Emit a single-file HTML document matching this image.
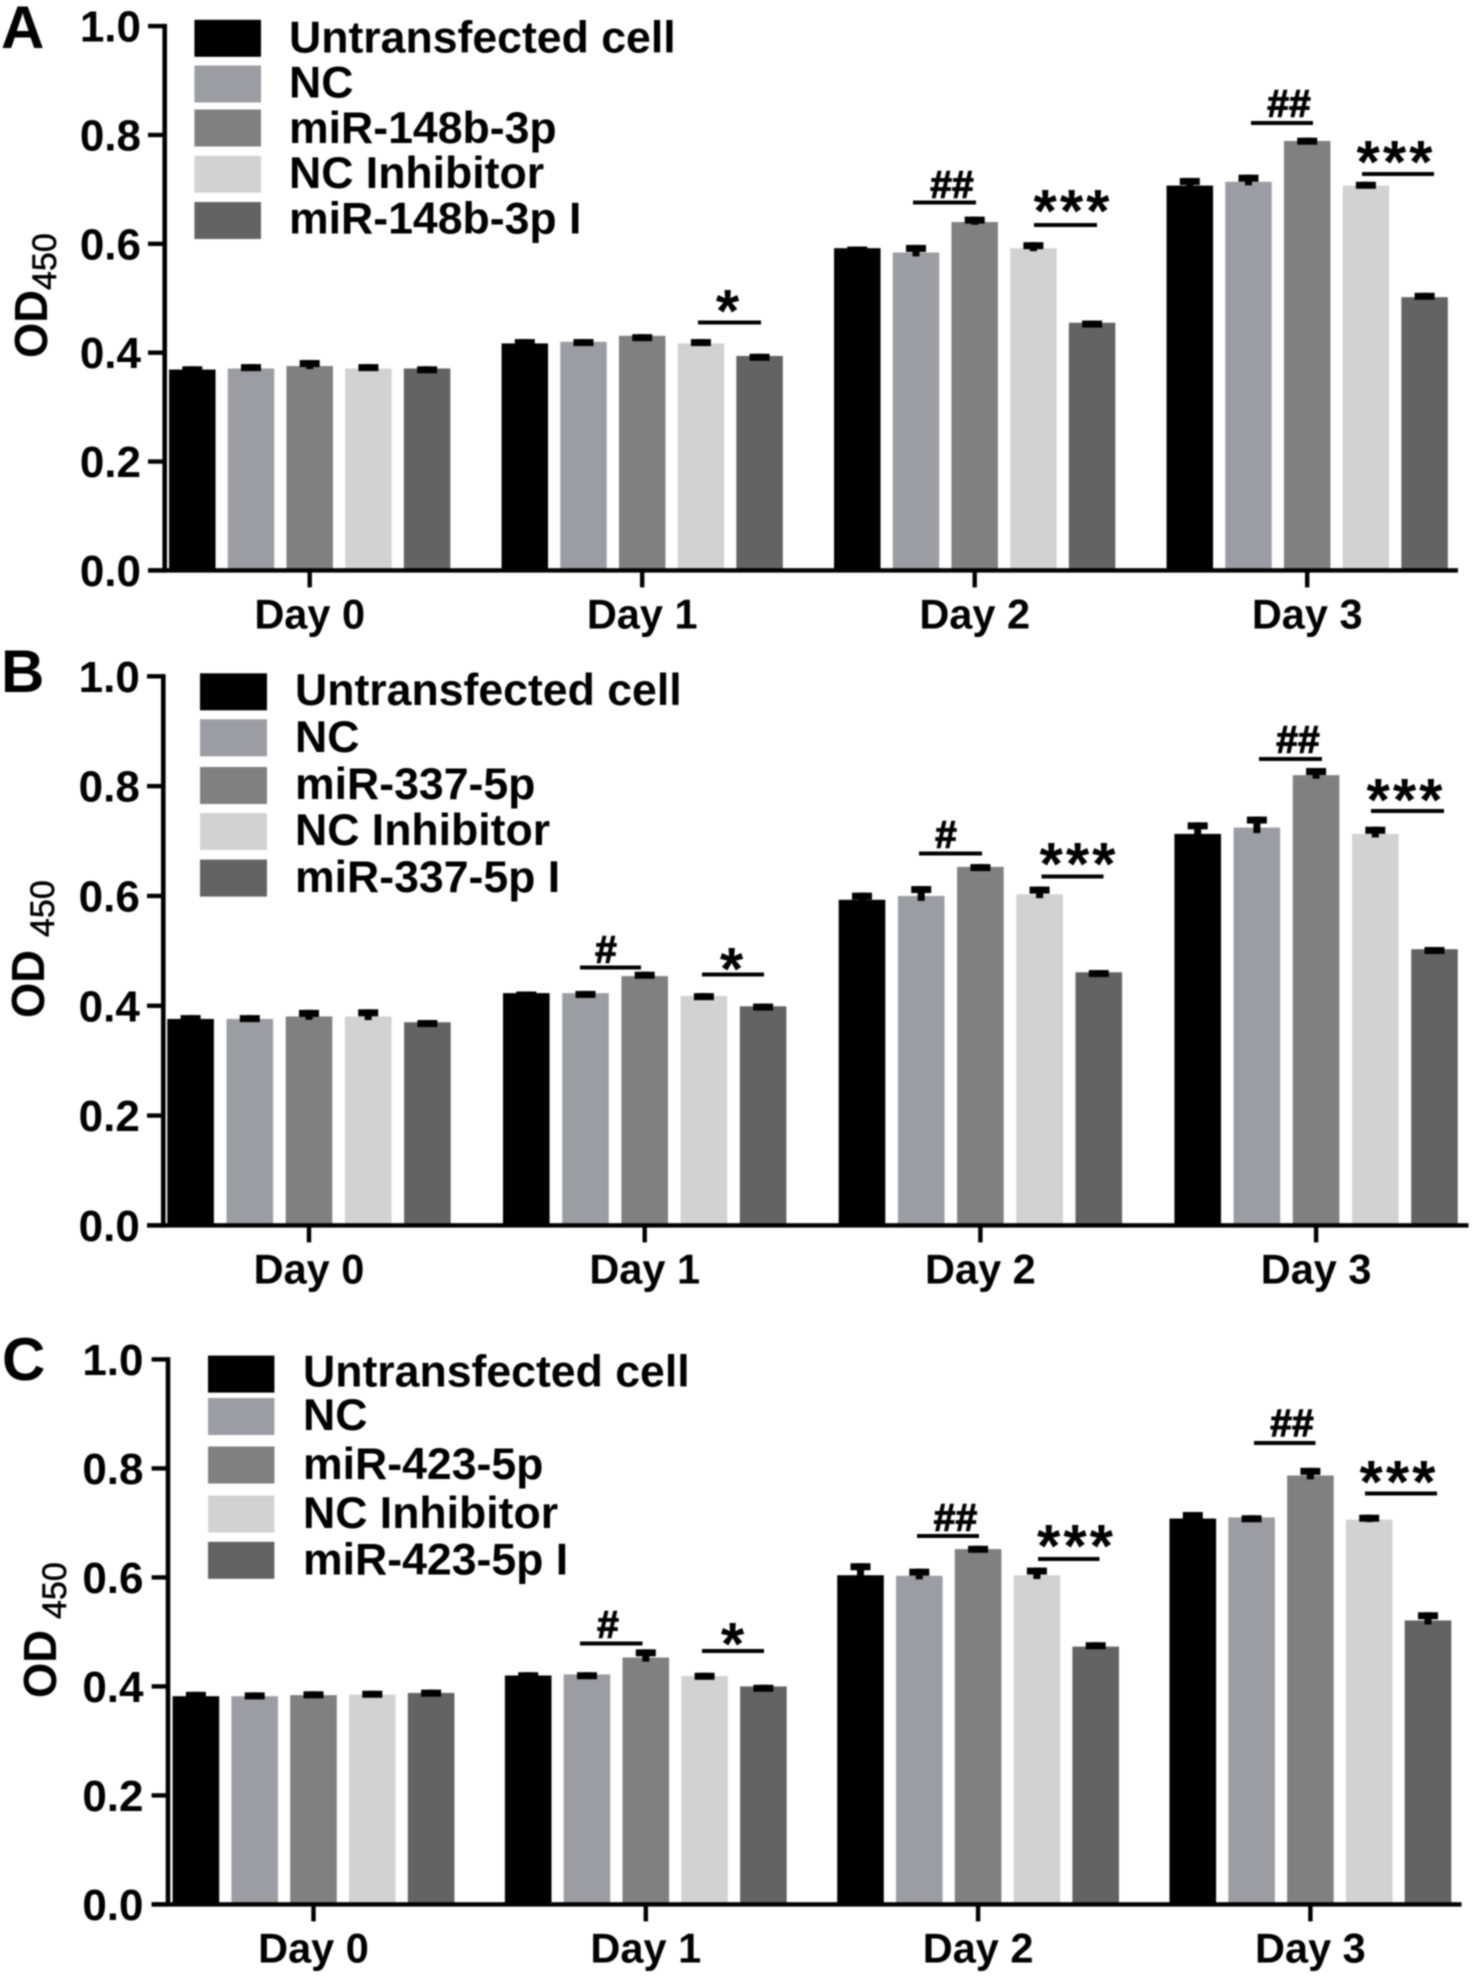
<!DOCTYPE html>
<html lang="en">
<head>
<meta charset="utf-8">
<title>OD450 bar charts</title>
<style>
html,body{margin:0;padding:0;background:#fff;}
svg{display:block;filter:blur(0.7px);}
text{font-family:"Liberation Sans",Arial,sans-serif;font-weight:bold;fill:#000;}
.sig-line{fill:#000;}
.hash{font-size:39px;text-anchor:middle;stroke:#000;stroke-width:1.1px;}
.star{font-size:60px;text-anchor:middle;letter-spacing:3px;}
.letter{font-size:60px;}
.od{font-size:46px;}
.sub{font-size:34px;font-weight:normal;stroke:#000;stroke-width:0.5px;}
</style>
</head>
<body>
<svg id="figure" xmlns="http://www.w3.org/2000/svg" width="1476" height="1985" viewBox="0 0 1476 1985">
  <rect x="0" y="0" width="1476" height="1985" fill="#fff"/>

  <g id="panel-a">
    <text class="letter" x="1" y="48">A</text>
    <text class="od" textLength="68" lengthAdjust="spacingAndGlyphs" transform="translate(47,358) rotate(-90)">OD</text>
    <text class="sub" transform="translate(56,290) rotate(-90)">450</text>
  </g>
  <g id="panel-b">
    <text class="letter" x="1" y="692">B</text>
    <text class="od" textLength="68" lengthAdjust="spacingAndGlyphs" transform="translate(44,1018) rotate(-90)">OD</text>
    <text class="sub" transform="translate(54,937) rotate(-90)">450</text>
  </g>
  <g id="panel-c">
    <text class="letter" x="2" y="1380">C</text>
    <text class="od" textLength="68" lengthAdjust="spacingAndGlyphs" transform="translate(56,1698) rotate(-90)">OD</text>
    <text class="sub" transform="translate(66,1619) rotate(-90)">450</text>
  </g>

  <g id="annotations">
    <rect class="sig-line" x="698" y="320.5" width="63" height="4"/>
    <text class="star" x="729" y="331.5">*</text>
    <rect class="sig-line" x="913" y="200.5" width="63" height="4"/>
    <text class="hash" x="952" y="198">##</text>
    <rect class="sig-line" x="1034" y="223" width="63" height="4"/>
    <text class="star" x="1073" y="231.5">***</text>
    <rect class="sig-line" x="1251" y="121" width="62" height="4"/>
    <text class="hash" x="1289" y="117">##</text>
    <rect class="sig-line" x="1362" y="172" width="72" height="4"/>
    <text class="star" x="1396" y="182.5">***</text>

    <rect class="sig-line" x="580" y="965.5" width="61" height="4"/>
    <text class="hash" x="606" y="963">#</text>
    <rect class="sig-line" x="702" y="972.5" width="62" height="4"/>
    <text class="star" x="733" y="989.5">*</text>
    <rect class="sig-line" x="919" y="851.5" width="63" height="4"/>
    <text class="hash" x="946" y="848">#</text>
    <rect class="sig-line" x="1041.5" y="874.5" width="62" height="4"/>
    <text class="star" x="1079" y="884.5">***</text>
    <rect class="sig-line" x="1259" y="757" width="63" height="4"/>
    <text class="hash" x="1298" y="753">##</text>
    <rect class="sig-line" x="1371" y="809" width="73" height="4"/>
    <text class="star" x="1406" y="820.5">***</text>

    <rect class="sig-line" x="580" y="1641.5" width="62.5" height="4"/>
    <text class="hash" x="608" y="1638">#</text>
    <rect class="sig-line" x="702" y="1649" width="62" height="4"/>
    <text class="star" x="734" y="1664.5">*</text>
    <rect class="sig-line" x="917" y="1534" width="62" height="4"/>
    <text class="hash" x="955.5" y="1531">##</text>
    <rect class="sig-line" x="1038" y="1557" width="61.5" height="4"/>
    <text class="star" x="1076.5" y="1566.5">***</text>
    <rect class="sig-line" x="1254" y="1441" width="61.5" height="4"/>
    <text class="hash" x="1292" y="1436.5">##</text>
    <rect class="sig-line" x="1365" y="1491.5" width="72" height="4"/>
    <text class="star" x="1399" y="1502.5">***</text>
  </g>
</svg>

<script>
const dayLabels = ["Day 0", "Day 1", "Day 2", "Day 3"];
const yTickValues = [0, 0.2, 0.4, 0.6, 0.8, 1.0];
const yTickLabels = ["0.0", "0.2", "0.4", "0.6", "0.8", "1.0"];
const seriesColors = ["#000000", "#9c9ca3", "#808080", "#d2d2d2", "#636363"];

const legendNamesA = ["Untransfected cell", "NC", "miR-148b-3p", "NC Inhibitor", "miR-148b-3p I"];
const legendNamesB = ["Untransfected cell", "NC", "miR-337-5p", "NC Inhibitor", "miR-337-5p I"];
const legendNamesC = ["Untransfected cell", "NC", "miR-423-5p", "NC Inhibitor", "miR-423-5p I"];

const valuesAUntransfected = [0.369, 0.417, 0.592, 0.707];
const valuesANC = [0.371, 0.420, 0.584, 0.714];
const valuesAMir = [0.3755, 0.431, 0.640, 0.789];
const valuesAInhibitorNC = [0.371, 0.417, 0.592, 0.707];
const valuesAInhibitorMir = [0.371, 0.394, 0.455, 0.502];
const errorsAUntransfected = [0.006, 0.008, 0.003, 0.014];
const errorsANC = [0.008, 0.005, 0.014, 0.013];
const errorsAMir = [0.011, 0.003, 0.010, 0.006];
const errorsAInhibitorNC = [0.008, 0.008, 0.011, 0.007];
const errorsAInhibitorMir = [0.004, 0.004, 0.004, 0.008];

const valuesBUntransfected = [0.376, 0.423, 0.593, 0.713];
const valuesBNC = [0.376, 0.423, 0.600, 0.7245];
const valuesBMir = [0.3805, 0.454, 0.653, 0.820];
const valuesBInhibitorNC = [0.3805, 0.418, 0.603, 0.713];
const valuesBInhibitorMir = [0.370, 0.399, 0.461, 0.503];
const errorsBUntransfected = [0.007, 0.003, 0.013, 0.021];
const errorsBNC = [0.007, 0.004, 0.018, 0.020];
const errorsBMir = [0.012, 0.008, 0.005, 0.013];
const errorsBInhibitorNC = [0.013, 0.005, 0.014, 0.013];
const errorsBInhibitorMir = [0.004, 0.005, 0.004, 0.004];

const valuesCUntransfected = [0.382, 0.420, 0.604, 0.708];
const valuesCNC = [0.382, 0.422, 0.603, 0.710];
const valuesCMir = [0.384, 0.453, 0.652, 0.787];
const valuesCInhibitorNC = [0.385, 0.419, 0.604, 0.706];
const valuesCInhibitorMir = [0.388, 0.400, 0.473, 0.521];
const errorsCUntransfected = [0.008, 0.006, 0.022, 0.012];
const errorsCNC = [0.007, 0.004, 0.013, 0.004];
const errorsCMir = [0.007, 0.015, 0.006, 0.014];
const errorsCInhibitorNC = [0.007, 0.006, 0.014, 0.009];
const errorsCInhibitorMir = [0.006, 0.003, 0.008, 0.015];

const SVG_NS = "http://www.w3.org/2000/svg";

function make(parent, tag, attrs, content) {
  const node = document.createElementNS(SVG_NS, tag);
  for (const key in attrs) node.setAttribute(key, attrs[key]);
  if (content !== undefined) node.textContent = content;
  parent.appendChild(node);
  return node;
}

function drawPanel(cfg) {
  const root = document.getElementById(cfg.id);
  const scaleY = function (v) { return cfg.y0 - v * (cfg.y0 - cfg.y1); };
  const tickX = function (d) { return cfg.tick0 + d * cfg.tickStep; };
  const barX = function (d, s) { return tickX(d) + (s - 2) * cfg.barStep; };

  cfg.values.forEach(function (series, s) {
    series.forEach(function (value, d) {
      const top = scaleY(value);
      const bar = make(root, "rect", { x: barX(d, s) - cfg.barW / 2, y: top, width: cfg.barW, height: cfg.y0 - top, fill: seriesColors[s] });
      
      
      const err = cfg.errors[s][d];
      const hi = scaleY(value + err);
      const lo = scaleY(value - err * 0.5);
      const stem = make(root, "rect", { x: barX(d, s) - 3.5, y: hi, width: 7, height: lo - hi, fill: "#000" });
      
      
      const cap = make(root, "rect", { x: barX(d, s) - 10, y: hi, width: 20, height: 7, fill: "#000" });
      
      
    });
  });

  const yAxis = make(root, "rect", { x: cfg.axisX - 2.3, y: scaleY(1) - 2.2, width: 4.6, height: cfg.y0 - scaleY(1) + 4.4, fill: "#000" });
  
  
  const xAxis = make(root, "rect", { x: cfg.tickLeft, y: cfg.y0 - 2.2, width: cfg.axisRight - cfg.tickLeft, height: 4.4, fill: "#000" });
  
  

  yTickValues.forEach(function (v, i) {
    const mark = make(root, "rect", { x: cfg.tickLeft, y: scaleY(v) - 2.2, width: cfg.axisX - cfg.tickLeft, height: 4.4, fill: "#000" });
    
    
    const label = make(root, "text", { x: cfg.labelRight, y: scaleY(v) + 15.5, "text-anchor": "end", "font-size": 44 }, yTickLabels[i]);
    
    
  });

  dayLabels.forEach(function (name, d) {
    const mark = make(root, "rect", { x: tickX(d) - 2.2, y: cfg.y0, width: 4.4, height: 17, fill: "#000" });
    
    
    const label = make(root, "text", { x: tickX(d), y: cfg.y0 + 58, "text-anchor": "middle", "font-size": 41.5 }, name);
    
    
  });

  cfg.legendNames.forEach(function (name, s) {
    const swatch = make(root, "rect", { x: cfg.legendX, y: cfg.legendTops[s], width: cfg.legendW, height: cfg.legendH, fill: seriesColors[s] });
    
    
    const label = make(root, "text", { x: cfg.legendTextX, y: cfg.legendBaselines[s], "font-size": 44.6 }, name);
    
    
  });
}

drawPanel({
  id: "panel-a",
  values: [valuesAUntransfected, valuesANC, valuesAMir, valuesAInhibitorNC, valuesAInhibitorMir],
  errors: [errorsAUntransfected, errorsANC, errorsAMir, errorsAInhibitorNC, errorsAInhibitorMir],
  legendNames: legendNamesA,
  y0: 570.4, y1: 26.1, axisX: 164.7, tickLeft: 148, axisRight: 1458, labelRight: 141,
  tick0: 309.7, tickStep: 332.5, barStep: 58.7, barW: 46.5,
  legendX: 194.4, legendW: 66.6, legendH: 37,
  legendTops: [19.8, 65.5, 109.5, 155.8, 202],
  legendTextX: 289, legendBaselines: [52.6, 97.7, 143, 188, 233.6]
});

drawPanel({
  id: "panel-b",
  values: [valuesBUntransfected, valuesBNC, valuesBMir, valuesBInhibitorNC, valuesBInhibitorMir],
  errors: [errorsBUntransfected, errorsBNC, errorsBMir, errorsBInhibitorNC, errorsBInhibitorMir],
  legendNames: legendNamesB,
  y0: 1225.4, y1: 676.3, axisX: 163.3, tickLeft: 147, axisRight: 1468.5, labelRight: 139.8,
  tick0: 309, tickStep: 335.7, barStep: 59.2, barW: 46.6,
  legendX: 200, legendW: 67, legendH: 37,
  legendTops: [673.3, 719.3, 767, 813, 859.6],
  legendTextX: 295, legendBaselines: [705, 752, 799, 845, 892]
});

drawPanel({
  id: "panel-c",
  values: [valuesCUntransfected, valuesCNC, valuesCMir, valuesCInhibitorNC, valuesCInhibitorMir],
  errors: [errorsCUntransfected, errorsCNC, errorsCMir, errorsCInhibitorNC, errorsCInhibitorMir],
  legendNames: legendNamesC,
  y0: 1904.4, y1: 1359.4, axisX: 168, tickLeft: 151.6, axisRight: 1461.5, labelRight: 143.5,
  tick0: 313.5, tickStep: 332.3, barStep: 58.8, barW: 46.6,
  legendX: 208, legendW: 66.4, legendH: 37,
  legendTops: [1355.6, 1398, 1446.5, 1495.5, 1541.8],
  legendTextX: 303, legendBaselines: [1386.6, 1430, 1479, 1528, 1574.5]
});
</script>
</body>
</html>
